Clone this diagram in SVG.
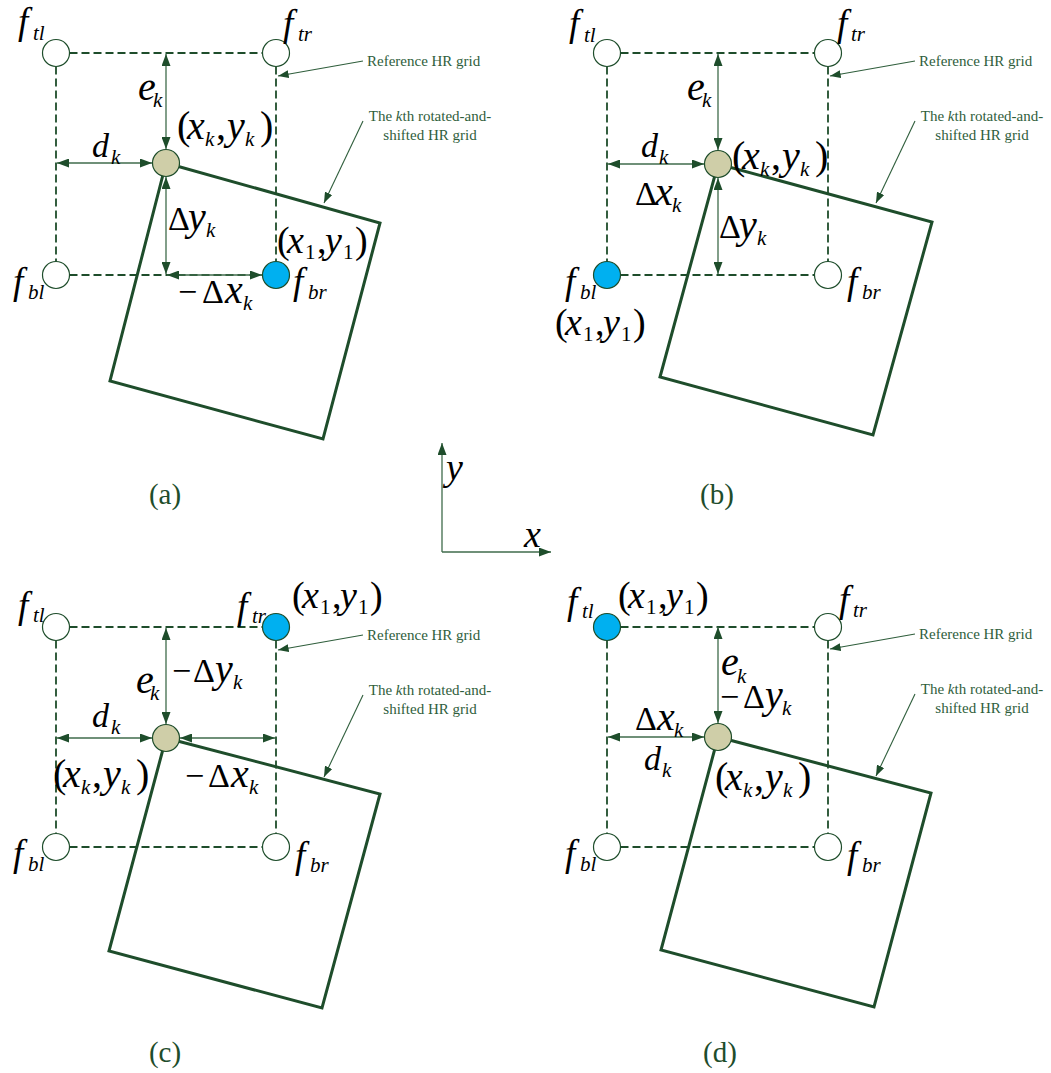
<svg xmlns="http://www.w3.org/2000/svg" width="1051" height="1073" viewBox="0 0 1051 1073">
<style>
.grid{stroke:#1e4d2b;stroke-width:1.8;stroke-dasharray:8 4;fill:none}
.dim{stroke:#3f6b4b;stroke-width:1.3;fill:none;marker-start:url(#ah);marker-end:url(#ah)}
.ann{stroke:#2f5e3c;stroke-width:1.1;fill:none;marker-end:url(#ah2)}
.ax{stroke:#3f6b4b;stroke-width:1.3;fill:none;marker-end:url(#ah)}
.sq{stroke:#1e4d2b;stroke-width:3;fill:none;stroke-linejoin:miter}
.nd{stroke:#1e4d2b;stroke-width:1.2}
.w{fill:#fff}.t{fill:#cfcea8}.b{fill:#00b0f0}
.m{font-family:"Liberation Serif","Times New Roman",serif;fill:#000}
.i{font-style:italic}
.f{font-size:37px}.s{font-size:21px}.q{font-size:40px}.p{font-size:38px}.e{font-size:40px}.D{font-size:34px}.dd{font-size:34px}
.at{font-family:"Liberation Serif","Times New Roman",serif;font-size:15px;fill:#2f5e3c}
.lab{font-family:"Liberation Serif","Times New Roman",serif;font-size:29px;fill:#1e4d2b}
</style>
<defs>
<marker id="ah" viewBox="0 0 12 9" refX="12" refY="4.5" markerWidth="12" markerHeight="9" markerUnits="userSpaceOnUse" orient="auto-start-reverse"><path d="M0,0L12,4.5L0,9z" fill="#1e4d2b"/></marker>
<marker id="ah2" viewBox="0 0 12 9" refX="12" refY="4.5" markerWidth="11" markerHeight="8" markerUnits="userSpaceOnUse" orient="auto"><path d="M0,0L12,4.5L0,9z" fill="#1e4d2b"/></marker>
</defs>

<g id="shapes">
<path class="sq" d="M166,163L380,223L323,439L110,381Z"/>
<path class="sq" d="M718,164L932,222L873,435L660,377Z"/>
<path class="sq" d="M166,738L380,794L322,1008L109,951Z"/>
<path class="sq" d="M718,737L931,793L874,1007L661,950Z"/>
</g>

<g id="connectors">
<path class="grid" d="M69.5,53H262.5M69.5,275H262.5M56,66.5V261.5M276,66.5V261.5"/>
<path class="grid" d="M620.5,53H814.5M620.5,275H814.5M607,66.5V261.5M828,66.5V261.5"/>
<path class="grid" d="M69.5,627H262.5M69.5,847H262.5M56,640.5V833.5M276,640.5V833.5"/>
<path class="grid" d="M620.5,627H814.5M620.5,847H814.5M607,640.5V833.5M828,640.5V833.5"/>
<line class="dim" x1="166" y1="54" x2="166" y2="149"/>
<line class="dim" x1="57" y1="163" x2="152" y2="163"/>
<line class="dim" x1="166" y1="177" x2="166" y2="274"/>
<line class="dim" x1="167" y1="275" x2="262" y2="275"/>
<line class="dim" x1="718" y1="54" x2="718" y2="150"/>
<line class="dim" x1="608" y1="164" x2="704" y2="164"/>
<line class="dim" x1="718" y1="178" x2="718" y2="274"/>
<line class="dim" x1="166" y1="628" x2="166" y2="724"/>
<line class="dim" x1="57" y1="738" x2="152" y2="738"/>
<line class="dim" x1="180" y1="738" x2="275" y2="738"/>
<line class="dim" x1="718" y1="627" x2="718" y2="723"/>
<line class="dim" x1="608" y1="737" x2="704" y2="737"/>
<line class="ann" x1="363" y1="61" x2="278" y2="76"/>
<line class="ann" x1="363" y1="121" x2="324" y2="203"/>
<line class="ann" x1="915" y1="61" x2="830" y2="76"/>
<line class="ann" x1="915" y1="121" x2="876" y2="203"/>
<line class="ann" x1="363" y1="635" x2="278" y2="650"/>
<line class="ann" x1="363" y1="695" x2="324" y2="777"/>
<line class="ann" x1="915" y1="634" x2="830" y2="649"/>
<line class="ann" x1="915" y1="694" x2="876" y2="776"/>
<line class="ax" x1="442" y1="552" x2="442" y2="443"/>
<line class="ax" x1="442" y1="552" x2="551" y2="552"/>
</g>

<g id="panel-a">
<g id="a-ftl"><circle class="nd w" cx="56" cy="53" r="13.5"/><text class="m i"><tspan class="f" x="18" y="34">f</tspan><tspan class="s" x="33" y="40">tl</tspan></text></g>
<g id="a-ftr"><circle class="nd w" cx="276" cy="53" r="13.5"/><text class="m i"><tspan class="f" x="283" y="36">f</tspan><tspan class="s" x="298" y="41">tr</tspan></text></g>
<g id="a-fbl"><circle class="nd w" cx="56" cy="275" r="13.5"/><text class="m i"><tspan class="f" x="13" y="294">f</tspan><tspan class="s" x="28" y="299">bl</tspan></text></g>
<g id="a-fbr"><circle class="nd b" cx="276" cy="275" r="13.5"/><text class="m i"><tspan class="f" x="293" y="294">f</tspan><tspan class="s" x="308" y="299">br</tspan></text></g>
<g id="a-pk"><circle class="nd t" cx="166" cy="163" r="13.5"/></g>
<text class="m e"><tspan class="i" x="138" y="100">e</tspan><tspan class="i s" x="153" y="107">k</tspan></text>
<text class="m dd"><tspan class="i" x="92" y="157">d</tspan><tspan class="i s" x="111" y="164">k</tspan></text>
<text class="m q"><tspan x="177" y="139">(</tspan><tspan class="i" x="187">x</tspan><tspan class="i s" x="205" y="146">k</tspan><tspan x="216" y="139">,</tspan><tspan class="i" x="227">y</tspan><tspan class="i s" x="245" y="146">k</tspan><tspan x="260" y="139">)</tspan></text>
<text class="m e"><tspan class="D" x="168" y="230">Δ</tspan><tspan class="i" x="188">y</tspan><tspan class="i s" x="206" y="237">k</tspan></text>
<text class="m p"><tspan x="277" y="253">(</tspan><tspan class="i" x="287">x</tspan><tspan class="s" x="305" y="259">1</tspan><tspan x="317" y="253">,</tspan><tspan class="i" x="325">y</tspan><tspan class="s" x="343" y="259">1</tspan><tspan x="355" y="253">)</tspan></text>
<text class="m e"><tspan class="D" x="178" y="303">−</tspan><tspan class="D" x="202">Δ</tspan><tspan class="i" x="225">x</tspan><tspan class="i s" x="243" y="310">k</tspan></text>
<text class="at" x="367" y="66">Reference HR grid</text>
<text class="at" text-anchor="middle"><tspan x="430" y="121">The <tspan font-style="italic">k</tspan>th rotated-and-</tspan><tspan x="430" y="140">shifted HR grid</tspan></text>
<text class="lab" x="165" y="504" text-anchor="middle">(a)</text>
</g>

<g id="panel-b">
<g id="b-ftl"><circle class="nd w" cx="607" cy="53" r="13.5"/><text class="m i"><tspan class="f" x="569" y="36">f</tspan><tspan class="s" x="584" y="42">tl</tspan></text></g>
<g id="b-ftr"><circle class="nd w" cx="828" cy="53" r="13.5"/><text class="m i"><tspan class="f" x="837" y="36">f</tspan><tspan class="s" x="851" y="41">tr</tspan></text></g>
<g id="b-fbl"><circle class="nd b" cx="607" cy="275" r="13.5"/><text class="m i"><tspan class="f" x="565" y="294">f</tspan><tspan class="s" x="580" y="299">bl</tspan></text></g>
<g id="b-fbr"><circle class="nd w" cx="828" cy="275" r="13.5"/><text class="m i"><tspan class="f" x="847" y="294">f</tspan><tspan class="s" x="862" y="299">br</tspan></text></g>
<g id="b-pk"><circle class="nd t" cx="718" cy="164" r="13.5"/></g>
<text class="m e"><tspan class="i" x="687" y="100">e</tspan><tspan class="i s" x="702" y="107">k</tspan></text>
<text class="m dd"><tspan class="i" x="641" y="157">d</tspan><tspan class="i s" x="659" y="164">k</tspan></text>
<text class="m q"><tspan x="732" y="169">(</tspan><tspan class="i" x="742">x</tspan><tspan class="i s" x="760" y="176">k</tspan><tspan x="771" y="169">,</tspan><tspan class="i" x="782">y</tspan><tspan class="i s" x="800" y="176">k</tspan><tspan x="815" y="169">)</tspan></text>
<text class="m e"><tspan class="D" x="635" y="205">Δ</tspan><tspan class="i" x="655">x</tspan><tspan class="i s" x="672" y="212">k</tspan></text>
<text class="m e"><tspan class="D" x="719" y="238">Δ</tspan><tspan class="i" x="739">y</tspan><tspan class="i s" x="757" y="245">k</tspan></text>
<text class="m p"><tspan x="555" y="335">(</tspan><tspan class="i" x="565">x</tspan><tspan class="s" x="583" y="341">1</tspan><tspan x="595" y="335">,</tspan><tspan class="i" x="603">y</tspan><tspan class="s" x="621" y="341">1</tspan><tspan x="633" y="335">)</tspan></text>
<text class="at" x="919" y="66">Reference HR grid</text>
<text class="at" text-anchor="middle"><tspan x="982" y="121">The <tspan font-style="italic">k</tspan>th rotated-and-</tspan><tspan x="982" y="140">shifted HR grid</tspan></text>
<text class="lab" x="717" y="504" text-anchor="middle">(b)</text>
</g>

<g id="panel-c">
<g id="c-ftl"><circle class="nd w" cx="56" cy="627" r="13.5"/><text class="m i"><tspan class="f" x="18" y="618">f</tspan><tspan class="s" x="33" y="622">tl</tspan></text></g>
<g id="c-ftr"><circle class="nd b" cx="276" cy="627" r="13.5"/><text class="m i"><tspan class="f" x="237" y="619">f</tspan><tspan class="s" x="252" y="623">tr</tspan></text></g>
<g id="c-fbl"><circle class="nd w" cx="56" cy="847" r="13.5"/><text class="m i"><tspan class="f" x="13" y="866">f</tspan><tspan class="s" x="28" y="871">bl</tspan></text></g>
<g id="c-fbr"><circle class="nd w" cx="276" cy="847" r="13.5"/><text class="m i"><tspan class="f" x="295" y="868">f</tspan><tspan class="s" x="310" y="872">br</tspan></text></g>
<g id="c-pk"><circle class="nd t" cx="166" cy="738" r="13.5"/></g>
<text class="m p"><tspan x="292" y="608">(</tspan><tspan class="i" x="302">x</tspan><tspan class="s" x="320" y="614">1</tspan><tspan x="332" y="608">,</tspan><tspan class="i" x="340">y</tspan><tspan class="s" x="358" y="614">1</tspan><tspan x="370" y="608">)</tspan></text>
<text class="m e"><tspan class="i" x="136" y="693">e</tspan><tspan class="i s" x="150" y="700">k</tspan></text>
<text class="m e"><tspan class="D" x="172" y="682">−</tspan><tspan class="D" x="193">Δ</tspan><tspan class="i" x="215">y</tspan><tspan class="i s" x="233" y="689">k</tspan></text>
<text class="m dd"><tspan class="i" x="92" y="727">d</tspan><tspan class="i s" x="111" y="734">k</tspan></text>
<text class="m q"><tspan x="53" y="787">(</tspan><tspan class="i" x="63">x</tspan><tspan class="i s" x="81" y="794">k</tspan><tspan x="92" y="787">,</tspan><tspan class="i" x="103">y</tspan><tspan class="i s" x="121" y="794">k</tspan><tspan x="136" y="787">)</tspan></text>
<text class="m e"><tspan class="D" x="185" y="787">−</tspan><tspan class="D" x="208">Δ</tspan><tspan class="i" x="231">x</tspan><tspan class="i s" x="249" y="794">k</tspan></text>
<text class="at" x="367" y="640">Reference HR grid</text>
<text class="at" text-anchor="middle"><tspan x="430" y="695">The <tspan font-style="italic">k</tspan>th rotated-and-</tspan><tspan x="430" y="714">shifted HR grid</tspan></text>
<text class="lab" x="165" y="1062" text-anchor="middle">(c)</text>
</g>

<g id="panel-d">
<g id="d-ftl"><circle class="nd b" cx="607" cy="627" r="13.5"/><text class="m i"><tspan class="f" x="567" y="614">f</tspan><tspan class="s" x="582" y="618">tl</tspan></text></g>
<g id="d-ftr"><circle class="nd w" cx="828" cy="627" r="13.5"/><text class="m i"><tspan class="f" x="839" y="612">f</tspan><tspan class="s" x="853" y="617">tr</tspan></text></g>
<g id="d-fbl"><circle class="nd w" cx="607" cy="847" r="13.5"/><text class="m i"><tspan class="f" x="565" y="866">f</tspan><tspan class="s" x="580" y="871">bl</tspan></text></g>
<g id="d-fbr"><circle class="nd w" cx="828" cy="847" r="13.5"/><text class="m i"><tspan class="f" x="847" y="868">f</tspan><tspan class="s" x="862" y="872">br</tspan></text></g>
<g id="d-pk"><circle class="nd t" cx="718" cy="737" r="13.5"/></g>
<text class="m p"><tspan x="618" y="608">(</tspan><tspan class="i" x="628">x</tspan><tspan class="s" x="646" y="614">1</tspan><tspan x="658" y="608">,</tspan><tspan class="i" x="666">y</tspan><tspan class="s" x="684" y="614">1</tspan><tspan x="696" y="608">)</tspan></text>
<text class="m e"><tspan class="i" x="721" y="675">e</tspan><tspan class="i s" x="737" y="683">k</tspan></text>
<text class="m e"><tspan class="D" x="720" y="708">−</tspan><tspan class="D" x="743">Δ</tspan><tspan class="i" x="765">y</tspan><tspan class="i s" x="782" y="715">k</tspan></text>
<text class="m e"><tspan class="D" x="635" y="730">Δ</tspan><tspan class="i" x="657">x</tspan><tspan class="i s" x="674" y="737">k</tspan></text>
<text class="m dd"><tspan class="i" x="644" y="770">d</tspan><tspan class="i s" x="662" y="777">k</tspan></text>
<text class="m q"><tspan x="715" y="790">(</tspan><tspan class="i" x="725">x</tspan><tspan class="i s" x="743" y="797">k</tspan><tspan x="754" y="790">,</tspan><tspan class="i" x="765">y</tspan><tspan class="i s" x="783" y="797">k</tspan><tspan x="798" y="790">)</tspan></text>
<text class="at" x="919" y="639">Reference HR grid</text>
<text class="at" text-anchor="middle"><tspan x="982" y="694">The <tspan font-style="italic">k</tspan>th rotated-and-</tspan><tspan x="982" y="713">shifted HR grid</tspan></text>
<text class="lab" x="720" y="1062" text-anchor="middle">(d)</text>
</g>

<g id="axes-labels">
<text class="m i p" x="446" y="480">y</text>
<text class="m i p" x="524" y="547">x</text>
</g>
</svg>
